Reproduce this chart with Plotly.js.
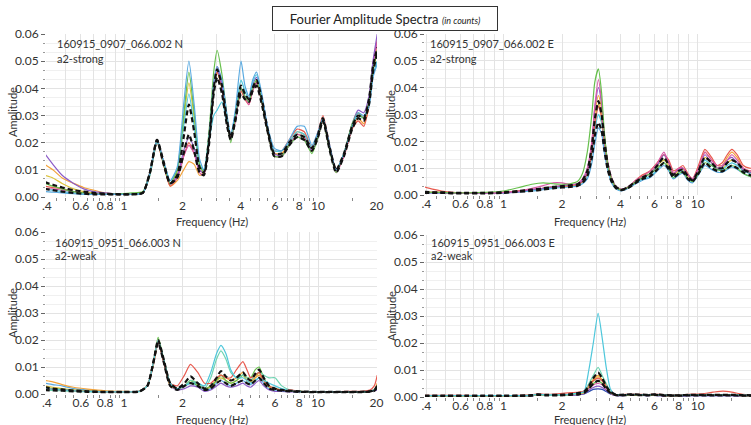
<!DOCTYPE html>
<html>
<head>
<meta charset="utf-8">
<script src="https://cdn.plot.ly/plotly-3.0.1.min.js"></script>
<style>html,body{margin:0;padding:0;background:#fff;}#chart{width:751px;height:425px;}</style>
</head>
<body>
<div id="chart"></div>
<script>
// ---------- x tick labels ----------
const xTickVals = [0.4,0.5,0.6,0.7,0.8,0.9,1,2,3,4,5,6,7,8,9,10,20];
const xTickText = [".4","","0.6","","0.8","","1","2","","4","","6","","8","","10","20"];
const xMinorVals = [0.45,0.5,0.55,0.65,0.7,0.75,0.85,0.9,0.95,1.5,2.5,3,3.5,4.5,5,5.5,6.5,7,7.5,8.5,9,9.5,15];
const yTickVals = [0,0.01,0.02,0.03,0.04,0.05,0.06];
const yTickText = ["0.00","0.01","0.02","0.03","0.04","0.05","0.06"];

// ---------- panel 1: 160915_0907_066.002 N (a2-strong) ----------
const fNs = [0.39,0.43,0.48,0.55,0.62,0.7,0.8,0.95,1.1,1.25,
 1.36,1.48,1.6,1.73,1.88,2.03,2.16,2.3,2.45,2.58,
 2.75,2.9,3.02,3.2,3.4,3.55,3.75,4.01,4.2,4.4,
 4.6,4.82,5.1,5.5,5.95,6.5,7.1,7.8,8.5,9.3,
 10.0,10.6,11.5,12.4,13.6,15.0,16.1,17.2,18.3,19.2,
 20.2];
const nsBlue = [0.002,0.0018,0.0015,0.0012,0.001,0.001,0.001,0.001,0.001,0.0015,
 0.009,0.021,0.013,0.006,0.011,0.034,0.050,0.034,0.014,0.010,
 0.023,0.042,0.048,0.043,0.030,0.023,0.032,0.050,0.041,0.037,
 0.043,0.046,0.039,0.026,0.018,0.017,0.021,0.026,0.026,0.019,
 0.024,0.029,0.019,0.010,0.016,0.026,0.031,0.030,0.033,0.044,
 0.049];
const nsGreen = [0.005,0.004,0.003,0.002,0.0015,0.0012,0.001,0.0012,0.0015,0.002,
 0.009,0.021,0.012,0.005,0.010,0.030,0.046,0.031,0.012,0.009,
 0.025,0.046,0.054,0.045,0.029,0.020,0.030,0.040,0.037,0.035,
 0.040,0.043,0.036,0.024,0.015,0.015,0.019,0.022,0.021,0.016,
 0.022,0.028,0.017,0.009,0.016,0.027,0.031,0.029,0.035,0.047,
 0.054];
const nsOrange = [0.012,0.010,0.007,0.005,0.0035,0.0025,0.0015,0.001,0.001,0.0015,
 0.008,0.020,0.012,0.004,0.006,0.010,0.013,0.012,0.008,0.009,
 0.022,0.041,0.046,0.040,0.027,0.022,0.028,0.039,0.037,0.035,
 0.040,0.042,0.036,0.024,0.016,0.016,0.020,0.024,0.023,0.018,
 0.023,0.028,0.018,0.010,0.016,0.026,0.029,0.027,0.033,0.046,
 0.055];
const nsRed = [0.004,0.0035,0.003,0.002,0.0015,0.0012,0.001,0.001,0.001,0.0015,
 0.009,0.020,0.012,0.004,0.007,0.015,0.020,0.016,0.010,0.009,
 0.021,0.040,0.046,0.040,0.028,0.022,0.029,0.039,0.036,0.034,
 0.039,0.042,0.036,0.025,0.017,0.017,0.021,0.025,0.024,0.018,
 0.024,0.030,0.019,0.010,0.015,0.025,0.028,0.026,0.034,0.049,
 0.058];
const nsPurple = [0.016,0.012,0.008,0.005,0.003,0.002,0.0015,0.001,0.001,0.0015,
 0.009,0.021,0.013,0.005,0.008,0.017,0.022,0.018,0.010,0.009,
 0.022,0.042,0.047,0.041,0.027,0.021,0.029,0.040,0.037,0.035,
 0.041,0.044,0.038,0.025,0.016,0.015,0.019,0.022,0.021,0.017,
 0.022,0.028,0.018,0.010,0.016,0.027,0.032,0.031,0.037,0.050,
 0.060];
const nsCyan = [0.003,0.0025,0.002,0.0015,0.0012,0.001,0.001,0.001,0.001,0.0015,
 0.008,0.020,0.013,0.006,0.010,0.026,0.038,0.026,0.012,0.010,
 0.021,0.030,0.032,0.035,0.027,0.023,0.031,0.043,0.039,0.036,
 0.042,0.045,0.038,0.025,0.017,0.017,0.020,0.024,0.023,0.018,
 0.023,0.029,0.018,0.010,0.016,0.026,0.030,0.029,0.034,0.045,
 0.050];
const nsPink = [0.003,0.003,0.0025,0.002,0.0015,0.0012,0.001,0.001,0.001,0.0015,
 0.009,0.021,0.012,0.005,0.007,0.015,0.019,0.016,0.009,0.008,
 0.021,0.041,0.048,0.042,0.028,0.021,0.028,0.040,0.037,0.034,
 0.039,0.042,0.036,0.024,0.015,0.015,0.019,0.023,0.022,0.017,
 0.022,0.028,0.018,0.009,0.015,0.026,0.031,0.029,0.035,0.048,
 0.057];
const nsYellow = [0.008,0.007,0.005,0.003,0.002,0.0015,0.001,0.001,0.001,0.0015,
 0.009,0.021,0.012,0.005,0.009,0.028,0.042,0.029,0.012,0.009,
 0.022,0.041,0.046,0.040,0.027,0.021,0.029,0.040,0.037,0.035,
 0.040,0.043,0.037,0.025,0.016,0.016,0.019,0.023,0.022,0.017,
 0.022,0.028,0.018,0.010,0.016,0.026,0.030,0.029,0.035,0.047,
 0.053];
const nsBlackA = [0.0055,0.0045,0.0035,0.0025,0.002,0.0015,0.0012,0.001,0.001,0.0015,
 0.009,0.021,0.013,0.005,0.008,0.022,0.034,0.024,0.011,0.009,
 0.022,0.040,0.047,0.041,0.028,0.022,0.029,0.041,0.038,0.036,
 0.040,0.043,0.037,0.025,0.016,0.016,0.020,0.023,0.022,0.018,
 0.023,0.029,0.018,0.010,0.016,0.026,0.030,0.029,0.036,0.048,
 0.055];
const nsBlackB = [0.003,0.0025,0.002,0.0015,0.0012,0.001,0.001,0.001,0.001,0.0015,
 0.009,0.021,0.012,0.005,0.007,0.016,0.023,0.017,0.009,0.008,
 0.020,0.038,0.044,0.038,0.026,0.021,0.028,0.038,0.036,0.035,
 0.039,0.041,0.035,0.024,0.015,0.015,0.019,0.022,0.021,0.017,
 0.022,0.028,0.017,0.009,0.015,0.025,0.029,0.028,0.034,0.046,
 0.053];

// ---------- panel 2: 160915_0907_066.002 E (a2-strong) ----------
const fEs = [0.39,0.43,0.48,0.55,0.65,0.8,1.0,1.2,1.4,1.6,
 1.8,2.0,2.2,2.4,2.55,2.7,2.85,2.95,3.08,3.2,
 3.3,3.45,3.6,3.8,4.05,4.4,4.8,5.2,5.7,6.2,
 6.7,7.1,7.5,8.0,8.4,8.9,9.4,10.1,10.9,11.8,
 12.6,13.4,14.2,15.0,16.0,17.2,18.5,19.6];
const esGreen = [0.001,0.001,0.001,0.0008,0.0008,0.001,0.0015,0.0028,0.004,0.0045,
 0.0042,0.004,0.0042,0.005,0.008,0.016,0.030,0.042,0.047,0.038,
 0.024,0.011,0.006,0.003,0.002,0.003,0.005,0.0065,0.008,0.010,
 0.012,0.010,0.0065,0.008,0.0085,0.006,0.005,0.008,0.012,0.011,
 0.0095,0.009,0.010,0.011,0.010,0.008,0.007,0.006];
const esPink = [0.001,0.001,0.001,0.0008,0.0008,0.0008,0.001,0.0015,0.0025,0.0035,
 0.0045,0.0045,0.004,0.0042,0.006,0.010,0.020,0.033,0.043,0.035,
 0.023,0.012,0.0065,0.0032,0.0022,0.0032,0.0055,0.007,0.009,0.012,
 0.016,0.012,0.008,0.010,0.010,0.0075,0.006,0.010,0.016,0.013,
 0.011,0.011,0.013,0.015,0.013,0.010,0.009,0.009];
const esRed = [0.003,0.0022,0.0015,0.001,0.0008,0.0008,0.001,0.0015,0.002,0.0025,
 0.003,0.0033,0.0035,0.004,0.005,0.008,0.016,0.026,0.033,0.029,
 0.020,0.011,0.006,0.003,0.002,0.003,0.0055,0.0075,0.009,0.012,
 0.015,0.013,0.009,0.010,0.011,0.008,0.006,0.011,0.017,0.014,
 0.011,0.012,0.015,0.017,0.015,0.011,0.010,0.010];
const esOrange = [0.0012,0.001,0.001,0.0008,0.0008,0.0008,0.001,0.0015,0.002,0.0025,
 0.003,0.0033,0.0035,0.004,0.005,0.009,0.019,0.030,0.037,0.032,
 0.022,0.011,0.006,0.003,0.002,0.003,0.005,0.007,0.009,0.012,
 0.015,0.012,0.008,0.0095,0.010,0.0075,0.006,0.010,0.016,0.013,
 0.011,0.011,0.014,0.016,0.014,0.010,0.009,0.009];
const esPurple = [0.0008,0.0008,0.0008,0.0006,0.0006,0.0006,0.0008,0.0012,0.002,0.0025,
 0.003,0.0035,0.0038,0.0042,0.0055,0.009,0.019,0.032,0.040,0.034,
 0.022,0.011,0.006,0.003,0.002,0.003,0.005,0.0065,0.008,0.011,
 0.015,0.012,0.008,0.0095,0.010,0.0075,0.006,0.0095,0.015,0.012,
 0.010,0.0105,0.013,0.014,0.012,0.0095,0.0085,0.0085];
const esBlue = [0.0008,0.0008,0.0008,0.0006,0.0006,0.0006,0.0008,0.0012,0.0015,0.002,
 0.0025,0.0028,0.003,0.0033,0.0042,0.006,0.012,0.019,0.025,0.023,
 0.016,0.009,0.0045,0.0022,0.0015,0.0025,0.0042,0.0055,0.0065,0.009,
 0.011,0.009,0.006,0.0075,0.008,0.0055,0.0045,0.0075,0.011,0.0095,
 0.0085,0.0085,0.0095,0.0105,0.0095,0.008,0.007,0.0065];
const esCyan = [0.001,0.001,0.0008,0.0008,0.0006,0.0006,0.0008,0.0012,0.0018,0.0022,
 0.0028,0.003,0.0033,0.0036,0.0048,0.007,0.015,0.024,0.030,0.027,
 0.019,0.010,0.0055,0.0025,0.0018,0.0027,0.0045,0.006,0.007,0.0095,
 0.012,0.0095,0.0065,0.0085,0.009,0.0062,0.005,0.0085,0.013,0.011,
 0.0095,0.0095,0.011,0.012,0.011,0.009,0.008,0.0075];
const esYellow = [0.001,0.001,0.001,0.0008,0.0008,0.0008,0.001,0.0015,0.002,0.0025,
 0.003,0.0033,0.0036,0.004,0.0052,0.0085,0.017,0.027,0.034,0.030,
 0.021,0.011,0.006,0.003,0.002,0.003,0.005,0.0065,0.008,0.011,
 0.013,0.011,0.0075,0.009,0.0095,0.007,0.0055,0.009,0.014,0.012,
 0.010,0.010,0.012,0.013,0.012,0.0095,0.0085,0.008];
const esBlackA = [0.0012,0.001,0.001,0.0008,0.0008,0.0008,0.001,0.0015,0.002,0.0025,
 0.003,0.0033,0.0036,0.004,0.0055,0.009,0.018,0.028,0.035,0.030,
 0.021,0.011,0.006,0.003,0.002,0.003,0.005,0.0065,0.008,0.011,
 0.014,0.011,0.0075,0.009,0.0095,0.007,0.0055,0.009,0.014,0.012,
 0.010,0.010,0.012,0.013,0.012,0.0095,0.0085,0.008];
const esBlackB = [0.0008,0.0008,0.0008,0.0006,0.0006,0.0006,0.0008,0.0012,0.0015,0.002,
 0.0025,0.0028,0.003,0.0034,0.0045,0.007,0.014,0.022,0.027,0.024,
 0.017,0.009,0.005,0.0025,0.0018,0.0027,0.0045,0.006,0.007,0.0095,
 0.012,0.0095,0.0065,0.008,0.0085,0.006,0.005,0.008,0.012,0.010,
 0.009,0.0088,0.010,0.011,0.010,0.0085,0.0075,0.007];

// ---------- panel 3: 160915_0951_066.003 N (a2-weak) ----------
const fNw = [0.39,0.43,0.48,0.55,0.65,0.8,1.0,1.2,1.32,1.42,
 1.5,1.6,1.73,1.88,2.05,2.2,2.4,2.6,2.8,3.0,
 3.16,3.35,3.55,3.8,4.1,4.3,4.5,4.75,4.97,5.25,
 5.6,6.0,6.5,7.2,8.0,9.5,11.5,14.0,16.5,18.5,
 19.5,20.2];
const nwRed = [0.002,0.0018,0.0015,0.0012,0.001,0.0008,0.0008,0.001,0.003,0.012,
 0.020,0.012,0.004,0.003,0.007,0.011,0.008,0.004,0.004,0.006,
 0.007,0.006,0.006,0.009,0.012,0.009,0.006,0.007,0.008,0.005,
 0.003,0.002,0.0015,0.0015,0.001,0.0008,0.0008,0.001,0.001,0.0015,
 0.003,0.007];
const nwCyan = [0.002,0.0018,0.0015,0.0012,0.001,0.0008,0.0008,0.001,0.003,0.012,
 0.020,0.013,0.004,0.002,0.003,0.004,0.004,0.003,0.008,0.015,
 0.018,0.015,0.009,0.006,0.006,0.005,0.004,0.005,0.006,0.005,
 0.004,0.003,0.002,0.0012,0.001,0.0008,0.0008,0.0008,0.0008,0.001,
 0.0015,0.003];
const nwTeal = [0.0015,0.0013,0.0012,0.001,0.0008,0.0007,0.0007,0.0009,0.003,0.012,
 0.020,0.013,0.004,0.002,0.003,0.005,0.004,0.002,0.006,0.013,
 0.016,0.013,0.008,0.006,0.007,0.006,0.005,0.007,0.008,0.007,
 0.006,0.006,0.003,0.0015,0.001,0.0008,0.0008,0.0008,0.0008,0.001,
 0.0015,0.0025];
const nwOrange = [0.005,0.0045,0.0035,0.0025,0.0018,0.0012,0.001,0.001,0.003,0.011,
 0.019,0.012,0.003,0.002,0.003,0.005,0.004,0.002,0.003,0.005,
 0.007,0.006,0.005,0.006,0.008,0.006,0.005,0.006,0.007,0.005,
 0.003,0.002,0.0015,0.0012,0.001,0.0008,0.0008,0.0008,0.0008,0.001,
 0.0015,0.004];
const nwGreen = [0.0025,0.002,0.0017,0.0013,0.001,0.0008,0.0008,0.001,0.003,0.012,
 0.021,0.013,0.004,0.002,0.003,0.005,0.003,0.002,0.003,0.005,
 0.007,0.005,0.004,0.005,0.007,0.006,0.006,0.009,0.010,0.006,
 0.003,0.002,0.0015,0.0012,0.001,0.0008,0.0008,0.0008,0.0008,0.001,
 0.0015,0.003];
const nwBlue = [0.004,0.0035,0.003,0.002,0.0015,0.001,0.0008,0.001,0.003,0.012,
 0.020,0.012,0.003,0.002,0.003,0.004,0.003,0.0015,0.002,0.004,
 0.005,0.004,0.003,0.004,0.005,0.004,0.0035,0.005,0.006,0.004,
 0.002,0.0015,0.0012,0.001,0.0008,0.0008,0.0008,0.0008,0.0008,0.001,
 0.0015,0.002];
const nwPurple = [0.002,0.0018,0.0015,0.0012,0.001,0.0008,0.0008,0.001,0.003,0.011,
 0.019,0.012,0.003,0.0015,0.002,0.003,0.0025,0.001,0.0015,0.003,
 0.004,0.003,0.0025,0.003,0.004,0.003,0.0025,0.004,0.005,0.003,
 0.0015,0.001,0.001,0.0008,0.0008,0.0007,0.0007,0.0007,0.0007,0.0009,
 0.0012,0.0015];
const nwYellow = [0.003,0.0025,0.002,0.0015,0.0012,0.001,0.0009,0.001,0.003,0.012,
 0.020,0.013,0.004,0.002,0.003,0.005,0.0035,0.002,0.0025,0.005,
 0.006,0.005,0.004,0.005,0.007,0.005,0.0045,0.006,0.008,0.005,
 0.0025,0.002,0.0015,0.0012,0.001,0.0008,0.0008,0.0008,0.0008,0.001,
 0.0015,0.0025];
const nwBlackA = [0.0025,0.002,0.0017,0.0013,0.001,0.0008,0.0008,0.001,0.003,0.012,
 0.020,0.013,0.004,0.002,0.004,0.0065,0.004,0.002,0.003,0.006,
 0.0085,0.0065,0.005,0.006,0.008,0.006,0.005,0.0075,0.009,0.006,
 0.003,0.002,0.0015,0.0012,0.001,0.0008,0.0008,0.0008,0.0008,0.001,
 0.0015,0.003];
const nwBlackB = [0.0015,0.0013,0.0012,0.001,0.0008,0.0007,0.0007,0.0009,0.003,0.012,
 0.019,0.012,0.003,0.0015,0.003,0.004,0.003,0.0015,0.002,0.004,
 0.005,0.004,0.003,0.004,0.005,0.004,0.0035,0.005,0.006,0.004,
 0.002,0.0015,0.0012,0.001,0.0008,0.0007,0.0007,0.0007,0.0007,0.0009,
 0.0012,0.0025];

// ---------- panel 4: 160915_0951_066.003 E (a2-weak) ----------
const fEw = [0.39,0.5,0.65,0.8,1.0,1.2,1.4,1.5,1.65,1.9,
 2.2,2.45,2.6,2.75,2.9,3.07,3.22,3.38,3.55,3.75,
 4.0,4.5,5.0,5.5,6.0,6.8,8.0,9.0,10.5,12.0,
 13.5,15.0,17.0,19.6];
const ewCyan = [0.0005,0.0005,0.0005,0.0005,0.0005,0.0005,0.0007,0.001,0.0008,0.0008,
 0.001,0.0015,0.002,0.010,0.020,0.031,0.022,0.011,0.003,0.001,
 0.0008,0.001,0.0009,0.0008,0.001,0.0007,0.0006,0.0008,0.0008,0.0008,
 0.0008,0.0008,0.0007,0.0006];
const ewTeal = [0.0005,0.0005,0.0005,0.0005,0.0005,0.0005,0.0006,0.0009,0.0007,0.0007,
 0.0009,0.0012,0.0018,0.005,0.008,0.011,0.008,0.005,0.002,0.0009,
 0.0007,0.0009,0.0008,0.0007,0.0009,0.0006,0.0006,0.0007,0.0007,0.0007,
 0.0007,0.0007,0.0006,0.0006];
const ewRed = [0.0006,0.0006,0.0006,0.0005,0.0005,0.0006,0.0008,0.0012,0.001,0.0012,
 0.0016,0.0018,0.0022,0.004,0.006,0.007,0.006,0.004,0.002,0.001,
 0.0009,0.0011,0.001,0.0009,0.0011,0.0008,0.0008,0.001,0.0012,0.0018,
 0.0022,0.0018,0.001,0.0008];
const ewOrange = [0.0004,0.0004,0.0004,0.0004,0.0004,0.0005,0.0006,0.0009,0.0007,0.0007,
 0.0009,0.0013,0.0018,0.0045,0.0065,0.008,0.0065,0.0045,0.002,0.0009,
 0.0007,0.0009,0.0008,0.0007,0.0009,0.0006,0.0006,0.0007,0.0007,0.0008,
 0.0008,0.0008,0.0006,0.0006];
const ewGreen = [0.0004,0.0004,0.0004,0.0004,0.0004,0.0005,0.0006,0.0009,0.0007,0.0007,
 0.0009,0.0012,0.0016,0.0035,0.005,0.006,0.005,0.0035,0.0016,0.0008,
 0.0006,0.0008,0.0007,0.0006,0.0008,0.0005,0.0005,0.0006,0.0006,0.0006,
 0.0006,0.0006,0.0005,0.0005];
const ewYellow = [0.0004,0.0004,0.0004,0.0004,0.0004,0.0005,0.0006,0.0009,0.0007,0.0007,
 0.0009,0.0012,0.0017,0.004,0.006,0.0075,0.006,0.004,0.0018,0.0008,
 0.0006,0.0008,0.0007,0.0006,0.0008,0.0005,0.0005,0.0006,0.0006,0.0006,
 0.0006,0.0006,0.0005,0.0005];
const ewPurple = [0.0003,0.0003,0.0003,0.0003,0.0003,0.0004,0.0005,0.0007,0.0006,0.0006,
 0.0007,0.0009,0.0012,0.0025,0.0035,0.004,0.0035,0.0025,0.0012,0.0006,
 0.0005,0.0006,0.0006,0.0005,0.0006,0.0004,0.0004,0.0005,0.0005,0.0005,
 0.0005,0.0005,0.0004,0.0004];
const ewNavy = [0.0003,0.0003,0.0003,0.0003,0.0003,0.0004,0.0005,0.0007,0.0006,0.0006,
 0.0007,0.0009,0.0011,0.002,0.0028,0.003,0.0028,0.002,0.0011,0.0006,
 0.0005,0.0006,0.0006,0.0005,0.0006,0.0004,0.0004,0.0005,0.0005,0.0005,
 0.0005,0.0005,0.0004,0.0004];
const ewPink = [0.0004,0.0004,0.0004,0.0004,0.0004,0.0005,0.0006,0.0008,0.0007,0.0007,
 0.0008,0.0011,0.0015,0.003,0.0045,0.005,0.0045,0.003,0.0015,0.0007,
 0.0006,0.0007,0.0007,0.0006,0.0007,0.0005,0.0005,0.0006,0.0006,0.0006,
 0.0006,0.0006,0.0005,0.0005];
const ewBlackA = [0.0005,0.0005,0.0005,0.0005,0.0005,0.0005,0.0007,0.001,0.0008,0.0008,
 0.001,0.0015,0.002,0.004,0.007,0.009,0.007,0.004,0.002,0.001,
 0.0008,0.001,0.0009,0.0008,0.001,0.0007,0.0006,0.0008,0.0008,0.0008,
 0.0008,0.0008,0.0007,0.0006];
const ewBlackB = [0.0003,0.0003,0.0003,0.0003,0.0003,0.0004,0.0005,0.0008,0.0006,0.0006,
 0.0008,0.001,0.0015,0.003,0.005,0.006,0.005,0.003,0.0015,0.0008,
 0.0006,0.0008,0.0007,0.0006,0.0008,0.0005,0.0005,0.0006,0.0006,0.0006,
 0.0006,0.0006,0.0005,0.0005];

// ---------- labels ----------
const chartTitle = 'Fourier Amplitude Spectra';
const chartSubtitle = '(in counts)';
const xTitle = 'Frequency (Hz)';
const yTitle = 'Amplitude';
const panelIds = ["160915_0907_066.002 N","160915_0907_066.002 E","160915_0951_066.003 N","160915_0951_066.003 E"];
const panelTags = ["a2-strong","a2-strong","a2-weak","a2-weak"];

// ---------- styling ----------
const pal = {blue:'#58a9e0', green:'#66c04c', orange:'#f3a33b', red:'#e85a4f', purple:'#8b5bc7',
  cyan:'#4ec7db', pink:'#d958a6', yellow:'#dcc23c', teal:'#6fd4b2', navy:'#3050b0'};

const panels = [
  {xa:'x', ya:'y', f:fNs, col:[['yellow',nsYellow],['orange',nsOrange],['red',nsRed],['pink',nsPink],['purple',nsPurple],['cyan',nsCyan],['green',nsGreen],['blue',nsBlue]], blk:[nsBlackB,nsBlackA]},
  {xa:'x2', ya:'y2', f:fEs, col:[['blue',esBlue],['cyan',esCyan],['yellow',esYellow],['orange',esOrange],['red',esRed],['purple',esPurple],['pink',esPink],['green',esGreen]], blk:[esBlackB,esBlackA]},
  {xa:'x3', ya:'y3', f:fNw, col:[['purple',nwPurple],['blue',nwBlue],['yellow',nwYellow],['orange',nwOrange],['green',nwGreen],['teal',nwTeal],['red',nwRed],['cyan',nwCyan]], blk:[nwBlackB,nwBlackA]},
  {xa:'x4', ya:'y4', f:fEw, col:[['navy',ewNavy],['purple',ewPurple],['pink',ewPink],['green',ewGreen],['yellow',ewYellow],['orange',ewOrange],['red',ewRed],['teal',ewTeal],['cyan',ewCyan]], blk:[ewBlackB,ewBlackA]}
];

const traces = [];
panels.forEach(p => {
  p.col.forEach(([c, v]) => traces.push({type:'scatter', mode:'lines', x:p.f, y:v, xaxis:p.xa, yaxis:p.ya,
    line:{color:pal[c], width:1.2, shape:'spline', smoothing:0.6}, hoverinfo:'skip'}));
  p.blk.forEach(v => traces.push({type:'scatter', mode:'lines', x:p.f, y:v, xaxis:p.xa, yaxis:p.ya,
    line:{color:'#111', width:2.2, dash:'5px,3px', shape:'spline', smoothing:0.6}, hoverinfo:'skip'}));
});

const FONT = 'Lato, "Open Sans", sans-serif';
const W = 751, H = 425;
function xAxis(px0, px1, range, anchor) {
  return {type:'log', domain:[px0/W, px1/W], range:range, anchor:anchor,
    tickmode:'array', tickvals:xTickVals, ticktext:xTickText,
    ticks:'', showgrid:true, gridcolor:'#e3e3e3', gridwidth:1, zeroline:false, showline:false,
    minor:{tickmode:'array', tickvals:xMinorVals, ticks:'outside', ticklen:3, tickcolor:'#888', showgrid:false},
    tickfont:{family:FONT, size:12, color:'#333'}};
}
function yAxis(py0, py1, anchor) {
  return {domain:[1 - py0/H, 1 - py1/H], range:[0, 0.06], anchor:anchor,
    tickmode:'array', tickvals:yTickVals, ticktext:yTickText,
    ticks:'outside', ticklen:4, tickcolor:'#666', tickwidth:1,
    showgrid:true, gridcolor:'#e3e3e3', gridwidth:1, zeroline:false, showline:false,
    minor:{dtick:0.01/3, tick0:0, ticks:'outside', ticklen:2, tickcolor:'#999', showgrid:true, gridcolor:'#f0f0f0'},
    tickfont:{family:FONT, size:12, color:'#333'}};
}

const ann = [];
const labelPos = [[55, 44, 59], [428, 44, 59], [53, 242, 256], [429, 242, 256]];
labelPos.forEach(([x, y1, y2], i) => {
  ann.push({xref:'paper', yref:'paper', x:x/W, y:1 - y1/H, xanchor:'left', yanchor:'middle', showarrow:false,
    text:panelIds[i], font:{family:FONT, size:11, color:'#333'}});
  ann.push({xref:'paper', yref:'paper', x:x/W, y:1 - y2/H, xanchor:'left', yanchor:'middle', showarrow:false,
    text:panelTags[i], font:{family:FONT, size:11, color:'#333'}});
});
// axis titles placed where the reference shows them
[[212, 221], [590, 221], [212, 419], [590, 419]].forEach(([x, y]) => ann.push({xref:'paper', yref:'paper',
  x:x/W, y:1 - y/H, xanchor:'center', yanchor:'middle', showarrow:false, text:xTitle,
  font:{family:FONT, size:11, color:'#333'}}));
[[12, 112], [391, 115], [12, 313], [391, 316]].forEach(([x, y]) => ann.push({xref:'paper', yref:'paper',
  x:x/W, y:1 - y/H, xanchor:'center', yanchor:'middle', showarrow:false, text:yTitle, textangle:-90,
  font:{family:FONT, size:11, color:'#333'}}));
ann.push({xref:'paper', yref:'paper', x:385/W, y:1 - 18.5/H, xanchor:'center', yanchor:'middle', showarrow:false,
  text:chartTitle + ' <i><span style="font-size:9px">' + chartSubtitle + '</span></i>',
  font:{family:FONT, size:13, color:'#222'}, bgcolor:'#ffffff', bordercolor:'#333', borderwidth:1, borderpad:2,
  width:220, height:19});

const layout = {
  width:W, height:H, margin:{l:0, r:0, t:0, b:0}, showlegend:false,
  paper_bgcolor:'#ffffff', plot_bgcolor:'#ffffff',
  font:{family:FONT, color:'#333'},
  xaxis: xAxis(46, 377, [-0.402, 1.304], 'y'),
  yaxis: yAxis(197, 34, 'x'),
  xaxis2: xAxis(425, 751, [-0.405, 1.275], 'y2'),
  yaxis2: yAxis(195, 34, 'x2'),
  xaxis3: xAxis(46, 377, [-0.402, 1.304], 'y3'),
  yaxis3: yAxis(394, 232, 'x3'),
  xaxis4: xAxis(425, 751, [-0.405, 1.275], 'y4'),
  yaxis4: yAxis(397, 235, 'x4'),
  annotations: ann
};

Plotly.newPlot('chart', traces, layout, {staticPlot:true, displayModeBar:false});
</script>
</body>
</html>
